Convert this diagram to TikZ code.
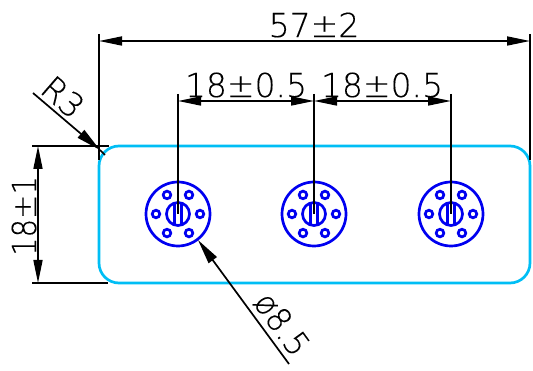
\documentclass[tikz,border=0pt]{standalone}
\usepackage{fontspec}
\setmainfont{DejaVu Sans ExtraLight}[FakeBold=0.2]
\usetikzlibrary{arrows.meta}
\definecolor{cyanedge}{RGB}{0,190,245}
\definecolor{holeblue}{RGB}{0,0,240}
\tikzset{
  x=1pt,y=-1pt,
  extline/.style={line width=1.7pt,black},
  dimtip/.style={line width=1.7pt,black,{Triangle[length=23pt,width=9pt]}-{Triangle[length=23pt,width=9pt]}},
  leadtip/.style={line width=1.7pt,black,-{Triangle[length=25pt,width=10pt]}},
  body/.style={line width=2.7pt,cyanedge},
  hole/.style={line width=2.7pt,holeblue},
  dimtext/.style={inner sep=0pt,font=\fontsize{33}{33}\selectfont,black},
}
\newcommand{\holeset}[1]{%
  \begin{scope}[shift={(#1,214)}]
    \draw[hole] (0,0) circle (32);
    \draw[hole] (0,0) circle (11.5);
    \draw[hole] (-3.5,-11) -- (-3.5,11);
    \draw[hole] (3.5,-11) -- (3.5,11);
    \foreach \a in {0,60,...,300} \draw[hole] (\a:22) circle (3.8);
  \end{scope}}
\begin{document}
\begin{tikzpicture}
\useasboundingbox (0,0) rectangle (533,371);
\draw[body] (99,146) [rounded corners=20] -- (530,146) -- (530,283) -- (99,283) -- cycle;
\holeset{178}\holeset{314}\holeset{451}
% named points
\coordinate (L57) at (99,41); \coordinate (R57) at (530,41);
\coordinate (A) at (178,101); \coordinate (B) at (314,101); \coordinate (C) at (451,101);
\coordinate (T18) at (38,146); \coordinate (B18) at (38,283);
\draw[extline] (99,34) -- (99,160);
\draw[extline] (530,34) -- (530,160);
\draw[extline] (178,94) -- (178,214);
\draw[extline] (314,94) -- (314,214);
\draw[extline] (451,94) -- (451,214);
\draw[extline] (32,146) -- (109,146);
\draw[extline] (32,283) -- (108,283);
\draw[dimtip] (L57) -- (R57);
\draw[dimtip] (A) -- (B);
\draw[dimtip] (B) -- (C);
\draw[dimtip] (T18) -- (B18);
\coordinate (Rs) at (33,93); \coordinate (Rt) at (100,150); \coordinate (Re) at (105,155);
\draw[leadtip] (Rs) -- (Rt);
\draw[extline] (Rt) -- (Re);
\coordinate (Ds) at (289,364); \coordinate (De) at (198,240);
\draw[leadtip] (Ds) -- (De);
\node[dimtext] (t57) at (314,25) {57±2};
\node[dimtext] (t1) at (246,85) {18±0.5};
\node[dimtext] (t2) at (382,85) {18±0.5};
\node[dimtext,rotate=90] (t18) at (24,216) {\scalebox{0.88}[1]{18±1}};
\node[dimtext,rotate=-41] (tR) at (63,97) {R3};
\node[dimtext,rotate=-54] (tD) at (282,324) {\scalebox{0.95}[1]{ø8.5}};
\end{tikzpicture}
\end{document}
